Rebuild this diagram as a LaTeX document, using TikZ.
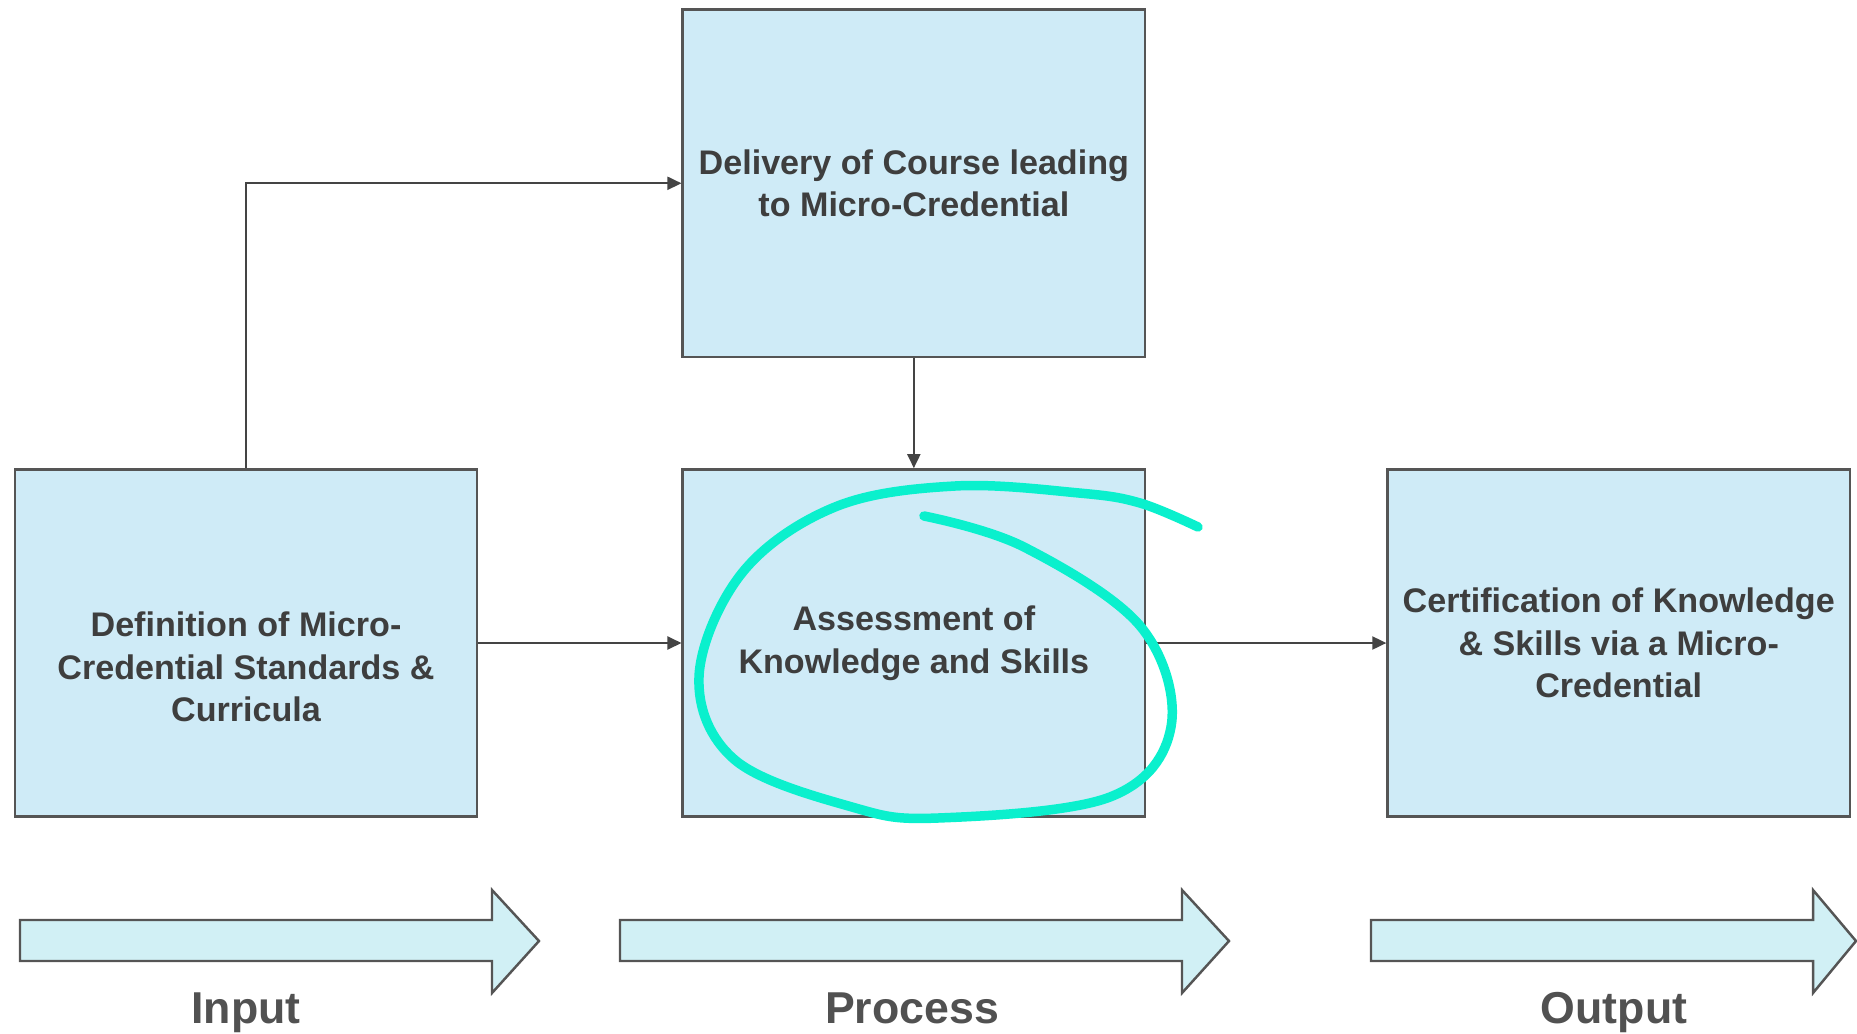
\documentclass[tikz,border=0pt]{standalone}
\usepackage{fontspec}
\setmainfont{Liberation Sans}
\usetikzlibrary{positioning, arrows.meta}

\definecolor{boxblue}{HTML}{CFEBF7}
\definecolor{bandblue}{HTML}{D1F0F5}
\definecolor{edgegray}{HTML}{555555}
\definecolor{textgray}{HTML}{3E3E3E}
\definecolor{markgreen}{RGB}{10,240,205}

\tikzset{
	stage/.style={draw=edgegray, line width=0.7pt, fill=boxblue, minimum width=4.62cm, minimum height=3.47cm,
		inner sep=0pt, align=center, text=textgray, font=\fontsize{9.7}{12.1}\selectfont\bfseries},
	link/.style={draw=edgegray!80!black, line width=0.55pt, -{Triangle[length=1.4mm,width=1.3mm]}},
	band/.style={draw=edgegray, line width=0.7pt, fill=bandblue, line join=miter},
	phase/.style={anchor=base, text=textgray!90, font=\fontsize{12.7}{15}\selectfont\bfseries},
}

\begin{document}
\begin{tikzpicture}[x=0.01cm, y=-0.01cm]
		\useasboundingbox (0,0) rectangle (1857,1033);
		% the four stages
		\node[stage] (def) at (246,643) {\strut\\Definition of Micro-\\Credential Standards \&\\Curricula};
		\node[stage, right=2.03cm of def] (assess) {Assessment of\\Knowledge and Skills};
		\node[stage, above=1.10cm of assess] (deliv) {Delivery of Course leading\\to Micro-Credential};
		\node[stage, right=2.40cm of assess] (cert) {Certification of Knowledge\\\& Skills via a Micro-\\Credential};
		\draw[link] (def.north) |- (deliv.west);
		\draw[link] (def.east) -- (assess.west);
		\draw[link] (deliv.south) -- (assess.north);
		\draw[link] (assess.east) -- (cert.west);
		% input / process / output bands
		\draw[band] (20,920) -- (492,920) -- (492,890) -- (539,941) -- (492,993) -- (492,961) -- (20,961) -- cycle;
		\draw[band] (620,920) -- (1182,920) -- (1182,890) -- (1229,941) -- (1182,993) -- (1182,961) -- (620,961) -- cycle;
		\draw[band] (1371,920) -- (1813,920) -- (1813,890) -- (1856,941) -- (1813,993) -- (1813,961) -- (1371,961) -- cycle;
		\node[phase] (lblin) at (246,1023) {Input};
		\node[phase] (lblproc) at (912,1023) {Process};
		\node[phase] (lblout) at (1614,1023) {Output};
		% hand-drawn ring round the assessment
		\draw[markgreen, line width=2.7pt, line cap=round, line join=round] plot[smooth, tension=0.6] coordinates {
			(1198,527) (1140,503) (1079,493) (955,486) (835,507) (742,573) (699,677) (735,760)
			(852,807) (938,818) (1110,797) (1171,727) (1141,627) (1024,547) (924,516)};
	\end{tikzpicture}
\end{document}
